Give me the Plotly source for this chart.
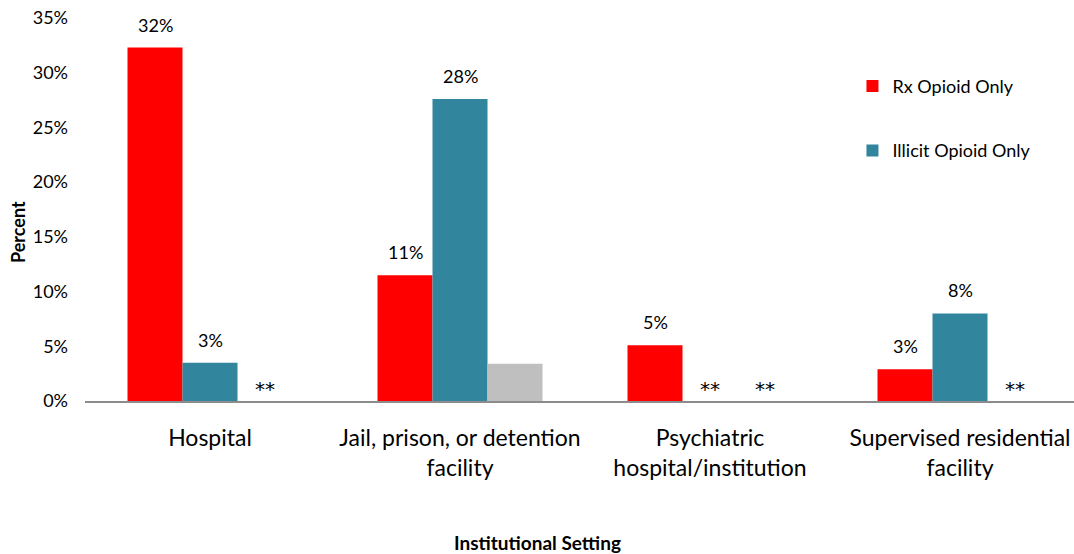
import plotly.graph_objects as go

categories = ["Hospital", "Jail, prison, or detention<br>facility",
              "Psychiatric<br>hospital/institution", "Supervised residential<br>facility"]
rx_values = [32.3, 11.5, 5.1, 2.9]
illicit_values = [3.5, 27.6, None, 8.0]
both_values = [None, 3.4, None, None]
rx_labels = ["32%", "11%", "5%", "3%"]
illicit_labels = ["3%", "28%", "**", "8%"]
both_labels = ["**", "", "**", "**"]
y_ticks = [0, 5, 10, 15, 20, 25, 30, 35]
y_tick_labels = ["0%", "5%", "10%", "15%", "20%", "25%", "30%", "35%"]

FONT = "Lato"
RED = "#FF0000"
TEAL = "#31859C"
GRAY = "#BFBFBF"

fig = go.Figure()
fig.add_trace(go.Bar(x=list(range(4)), y=rx_values, name="Rx Opioid Only",
                     marker=dict(color=RED, line=dict(width=0)), legendgroup="a"))
fig.add_trace(go.Bar(x=list(range(4)), y=[v if v is not None else 0 for v in illicit_values],
                     name="Illicit Opioid Only",
                     marker=dict(color=TEAL, line=dict(width=0)), legendgroup="b"))
fig.add_trace(go.Bar(x=list(range(4)), y=[v if v is not None else 0 for v in both_values],
                     name="Both", showlegend=False,
                     marker=dict(color=GRAY, line=dict(width=0)), legendgroup="c"))

bar_w = 0.22
annotations = []
for series, (vals, labs) in enumerate([(rx_values, rx_labels),
                                       (illicit_values, illicit_labels),
                                       (both_values, both_labels)]):
    off = (series - 1) * bar_w
    for i, (v, lab) in enumerate(zip(vals, labs)):
        if not lab:
            continue
        if lab == "**":
            annotations.append(dict(x=i + off, y=0, xref="x", yref="y", text=lab,
                                    showarrow=False, yanchor="bottom", yshift=-2,
                                    font=dict(family="DejaVu Sans", size=20, color="#000000")))
        else:
            annotations.append(dict(x=i + off, y=v, xref="x", yref="y", text=lab,
                                    showarrow=False, yanchor="bottom", yshift=10,
                                    font=dict(family=FONT, size=18, color="#000000")))

annotations.append(dict(x=(537 - 85) / 989, y=-(542 - 401) / 383, xref="paper", yref="paper",
                        text="<b>Institutional Setting</b>", showarrow=False,
                        yanchor="middle", font=dict(family=FONT, size=19, color="#000000")))
annotations.append(dict(x=(18 - 85) / 989, y=(401 - 232) / 383, xref="paper", yref="paper",
                        text="<b>Percent</b>", showarrow=False, textangle=-90,
                        xanchor="center", yanchor="middle",
                        font=dict(family=FONT, size=18, color="#000000")))

fig.update_layout(
    width=1074, height=554,
    margin=dict(l=85, r=0, t=18, b=153),
    paper_bgcolor="white", plot_bgcolor="white",
    barmode="group", bargap=0.34, bargroupgap=0,
    font=dict(family=FONT, color="#000000"),
    legend=dict(x=0.776, y=0.87, xanchor="left", yanchor="top", itemwidth=30,
                font=dict(family=FONT, size=18, color="#000000"),
                tracegroupgap=38, bgcolor="rgba(0,0,0,0)"),
    annotations=annotations,
    xaxis=dict(tickmode="array", tickvals=list(range(4)), ticktext=categories,
               range=[-0.5, -0.5 + 989 / 250], showgrid=False, automargin=False,
               showline=True, linecolor="#8C8C8C", linewidth=2,
               ticks="", ticklabelstandoff=15,
               tickfont=dict(family=FONT, size=23, color="#000000"),
               zeroline=False),
    yaxis=dict(range=[0, 35], tickvals=y_ticks, ticktext=y_tick_labels,
               showgrid=False, showline=False, zeroline=False, ticks="",
               automargin=False, ticklabelstandoff=16,
               tickfont=dict(family=FONT, size=18, color="#000000")),
)

fig.write_html("out.html", config={"displayModeBar": False},
               post_script="document.body.style.margin='0';")
